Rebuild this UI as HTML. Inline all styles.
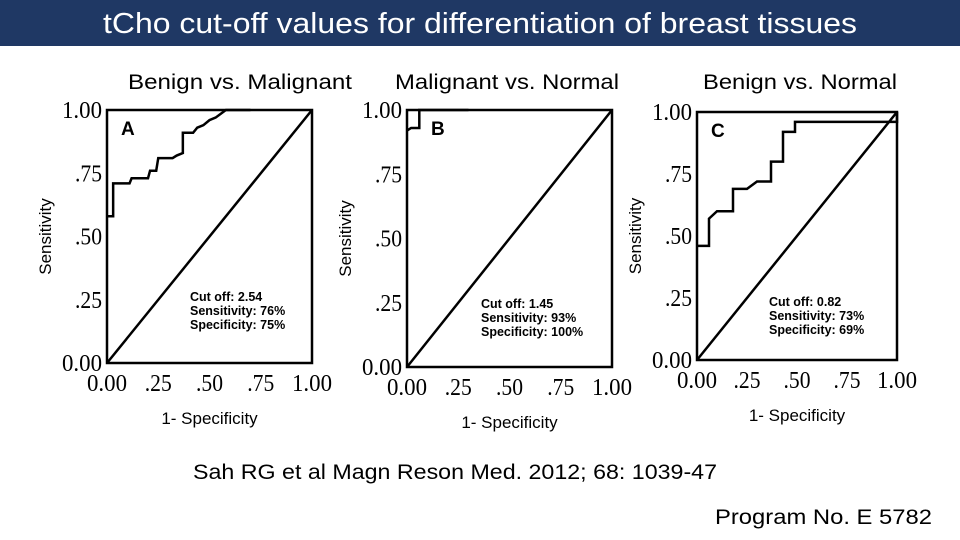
<!DOCTYPE html>
<html><head><meta charset="utf-8"><style>
body{margin:0;width:960px;height:540px;background:#fff;overflow:hidden;font-family:"Liberation Sans",sans-serif;position:relative}
#bar{position:absolute;left:0;top:0;width:960px;height:46px;background:#1f3864}
</style></head><body>
<div id="bar"></div>
<svg id="svg" width="960" height="540" style="position:absolute;left:0;top:0" font-family="Liberation Sans, sans-serif">
<text x="103" y="33" font-size="29" fill="#fff" textLength="754" lengthAdjust="spacingAndGlyphs">tCho cut-off values for differentiation of breast tissues</text>
<text x="128" y="89" font-size="21" textLength="224" lengthAdjust="spacingAndGlyphs">Benign vs. Malignant</text>
<text x="395" y="89" font-size="21" textLength="224" lengthAdjust="spacingAndGlyphs">Malignant vs. Normal</text>
<text x="703" y="89" font-size="21" textLength="194" lengthAdjust="spacingAndGlyphs">Benign vs. Normal</text>
<text x="193" y="479" font-size="21" textLength="524" lengthAdjust="spacingAndGlyphs">Sah RG et al Magn Reson Med. 2012; 68: 1039-47</text>
<text x="715" y="524" font-size="21" textLength="217" lengthAdjust="spacingAndGlyphs">Program No. E 5782</text>
</svg>
<script>
const ticks=[0,0.25,0.5,0.75,1];
const tickLabels=["0.00",".25",".50",".75","1.00"];
const xA=[0,0.03,0.03,0.11,0.12,0.2,0.21,0.24,0.25,0.32,0.34,0.37,0.37,0.42,0.44,0.47,0.5,0.53,0.58,0.7];
const yA=[0.58,0.58,0.71,0.71,0.73,0.73,0.76,0.76,0.81,0.81,0.82,0.83,0.91,0.91,0.93,0.94,0.96,0.97,1,1];
const xB=[0,0.02,0.06,0.06,0.3];
const yB=[0.92,0.93,0.93,1,1];
const xC=[0,0.06,0.06,0.1,0.18,0.18,0.25,0.3,0.37,0.37,0.43,0.43,0.49,0.49,1,1];
const yC=[0.46,0.46,0.57,0.6,0.6,0.69,0.69,0.72,0.72,0.8,0.8,0.92,0.92,0.96,0.96,1];
const panels=[
 {id:'a',L:'A',x0:107,x1:312,y0:110,y1:363,xs:xA,ys:yA,ann:["Cut off: 2.54","Sensitivity: 76%","Specificity: 75%"],ax:190,ay:301},
 {id:'b',L:'B',x0:407,x1:612,y0:110,y1:367,xs:xB,ys:yB,ann:["Cut off: 1.45","Sensitivity: 93%","Specificity: 100%"],ax:481,ay:308},
 {id:'c',L:'C',x0:697,x1:897,y0:112,y1:360,xs:xC,ys:yC,ann:["Cut off: 0.82","Sensitivity: 73%","Specificity: 69%"],ax:769,ay:306}
];
const NS="http://www.w3.org/2000/svg",svg=document.getElementById('svg');
function mk(t,a,txt){const e=document.createElementNS(NS,t);for(const k in a)e.setAttribute(k,a[k]);if(txt!=null)e.textContent=txt;svg.appendChild(e);return e;}
panels.forEach(p=>{
 const sx=v=>p.x0+v*(p.x1-p.x0), sy=v=>p.y1-v*(p.y1-p.y0);
 let e=mk('rect',{x:p.x0,y:p.y0,width:p.x1-p.x0,height:p.y1-p.y0,fill:'none',stroke:'#000','stroke-width':2.5});
 
 
 e=mk('line',{x1:sx(0),y1:sy(0),x2:sx(1),y2:sy(1),stroke:'#000','stroke-width':2.5});
 
 
 const pts=p.xs.map((x,i)=>sx(x)+','+sy(p.ys[i])).join(' ');
 e=mk('polyline',{points:pts,fill:'none',stroke:'#000','stroke-width':2.5});
 
 
 ticks.forEach((t,i)=>{
  const w=tickLabels[i].length===4?40:27;
  e=mk('text',{x:p.x0-5,y:sy(t)+8,'text-anchor':'end','font-family':'Liberation Serif,serif','font-size':24,textLength:w,lengthAdjust:'spacingAndGlyphs'},tickLabels[i]);
  
  
  e=mk('text',{x:sx(t),y:p.y1+28,'text-anchor':'middle','font-family':'Liberation Serif,serif','font-size':24,textLength:w,lengthAdjust:'spacingAndGlyphs'},tickLabels[i]);
  
  
 });
 e=mk('text',{x:(p.x0+p.x1)/2,y:p.y1+61,'text-anchor':'middle','font-size':17},'1- Specificity');
 
 
 const cy=(p.y0+p.y1)/2, cx=p.x0-56;
 e=mk('text',{x:cx,y:cy,'text-anchor':'middle','font-size':17,transform:`rotate(-90 ${cx} ${cy})`},'Sensitivity');
 
 
 e=mk('text',{x:p.id==='b'?p.x0+24:p.x0+14,y:p.y0+25,'font-size':19,'font-weight':'bold'},p.L);
 
 
 p.ann.forEach((s,i)=>{
  e=mk('text',{x:p.ax,y:p.ay+i*14,'font-size':12.5,'font-weight':'bold'},s);
  
  
 });
});
</script>
</body></html>
